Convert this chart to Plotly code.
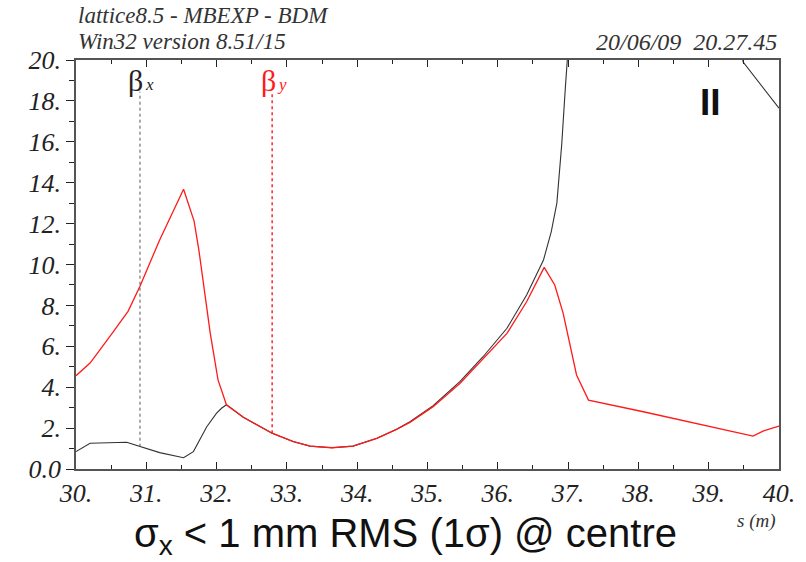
import plotly.graph_objects as go

# Optics functions along the line, s in metres
s_bx = [30.0, 30.2, 30.72, 30.91, 31.19, 31.53, 31.67, 31.86, 32.0, 32.07, 32.14,
        32.38, 32.79, 33.09, 33.33, 33.64, 33.94, 34.28, 34.56, 34.75, 35.08, 35.46,
        35.79, 36.13, 36.41, 36.65, 36.68, 36.76, 36.84, 36.91, 36.96, 37.0, 37.05,
        39.35, 39.49, 40.0]
beta_x = [0.85, 1.26, 1.31, 1.09, 0.80, 0.55, 0.85, 2.07, 2.73, 2.97, 3.14,
          2.53, 1.75, 1.34, 1.12, 1.04, 1.12, 1.50, 1.94, 2.31, 3.10, 4.27,
          5.49, 6.88, 8.51, 10.22, 10.6, 11.6, 13.0, 15.9, 18.6, 20.5, 23.0,
          23.0, 19.9, 17.64]

s_by = [30.0, 30.2, 30.48, 30.74, 30.91, 31.19, 31.53, 31.68, 31.75, 31.91, 32.02,
        32.14, 32.38, 32.79, 33.09, 33.33, 33.64, 33.94, 34.28, 34.56, 34.75, 35.08,
        35.46, 35.79, 36.13, 36.41, 36.66, 36.81, 36.93, 37.12, 37.29, 38.07, 38.83,
        39.63, 39.78, 40.0]
beta_y = [4.56, 5.18, 6.47, 7.71, 8.94, 11.2, 13.68, 12.12, 10.65, 6.63, 4.36,
          3.14, 2.53, 1.75, 1.34, 1.12, 1.04, 1.12, 1.50, 1.94, 2.28, 3.05,
          4.18, 5.40, 6.63, 8.18, 9.86, 9.0, 7.61, 4.60, 3.37, 2.80, 2.23,
          1.61, 1.86, 2.10]

# Marker positions for the two beta labels
mark_s = [30.91, 32.79]
mark_lo = [1.09, 1.75]
mark_hi = 18.45

x_ticks = [30, 31, 32, 33, 34, 35, 36, 37, 38, 39, 40]
x_text = ["30.", "31.", "32.", "33.", "34.", "35.", "36.", "37.", "38.", "39.", "40."]
y_ticks = [0, 2, 4, 6, 8, 10, 12, 14, 16, 18, 20]
y_text = ["0.0", "2.", "4.", "6.", "8.", "10.", "12.", "14.", "16.", "18.", "20."]

BLACK = "#333333"
RED = "#ff1a1a"
SERIF = "Liberation Serif"

fig = go.Figure()
fig.add_trace(go.Scatter(x=s_bx, y=beta_x, mode="lines",
                         line=dict(color=BLACK, width=1.1), showlegend=False))
fig.add_trace(go.Scatter(x=s_by, y=beta_y, mode="lines",
                         line=dict(color=RED, width=1.3), showlegend=False))
fig.add_trace(go.Scatter(x=[mark_s[0], mark_s[0]], y=[mark_lo[0], mark_hi], mode="lines",
                         line=dict(color="#555", width=1, dash="dot"), showlegend=False))
fig.add_trace(go.Scatter(x=[mark_s[1], mark_s[1]], y=[mark_lo[1], mark_hi], mode="lines",
                         line=dict(color=RED, width=1.4, dash="dot"), showlegend=False))

fig.update_layout(
    width=806, height=562,
    margin=dict(l=76, r=27, t=60, b=93),
    paper_bgcolor="white", plot_bgcolor="white",
    showlegend=False,
    xaxis=dict(
        range=[30, 40], tickvals=x_ticks, ticktext=x_text,
        ticks="inside", ticklen=7, tickwidth=1.2, tickcolor="#222",
        minor=dict(dtick=0.5, ticks="inside", ticklen=4, tickcolor="#222"),
        showline=True, linecolor="#555", linewidth=1.5, mirror="ticks",
        showgrid=False, zeroline=False,
        tickfont=dict(family=SERIF, size=26, color="#222", style="italic"),
    ),
    yaxis=dict(
        range=[0, 20], tickvals=y_ticks, ticktext=y_text,
        ticks="outside", ticklen=8, tickwidth=1.2, tickcolor="#222",
        minor=dict(dtick=1, ticks="outside", ticklen=5, tickcolor="#222"),
        showline=True, linecolor="#555", linewidth=1.5, mirror=True,
        showgrid=False, zeroline=False,
        tickfont=dict(family=SERIF, size=26, color="#222", style="italic"),
    ),
)

def top_note(text, x, y, xanchor, size=23):
    fig.add_annotation(text=text, xref="paper", yref="paper", x=x, y=y,
                       xanchor=xanchor, yanchor="middle", showarrow=False,
                       font=dict(family=SERIF, size=size, color="#333", style="italic"))

top_note("lattice8.5 - MBEXP - BDM", 0.0, 1.1088, "left")
top_note("Win32 version 8.51/15", 0.0, 1.0452, "left")
top_note("20/06/09&nbsp;&nbsp;20.27.45", 1.0, 1.0452, "right", 24)

# Beta labels above the markers
def beta_label(s_b, s_sub, sub, color):
    fig.add_annotation(text="β", x=s_b, y=19.02, xref="x", yref="y",
                       xanchor="center", yanchor="middle", showarrow=False,
                       font=dict(family=SERIF, size=30, color=color))
    fig.add_annotation(text=sub, x=s_sub, y=18.8, xref="x", yref="y",
                       xanchor="center", yanchor="middle", showarrow=False,
                       font=dict(family=SERIF, size=17, color=color, style="italic"))

beta_label(30.84, 31.05, "x", "#222")
beta_label(32.74, 32.93, "y", RED)

# Plane marker
fig.add_annotation(text="<b>II</b>", x=0.903, y=0.895, xref="paper", yref="paper",
                   xanchor="center", yanchor="middle", showarrow=False,
                   font=dict(family="Liberation Sans", size=37, color="#111"))

# Axis name and caption
fig.add_annotation(text="s (m)", x=0.998, y=-0.127, xref="paper", yref="paper",
                   xanchor="right", yanchor="middle", showarrow=False,
                   font=dict(family=SERIF, size=19, color="#333", style="italic"))
fig.add_annotation(text="σ<sub>x</sub> &lt; 1 mm RMS (1σ) @ centre", x=0.468, y=-0.165,
                   xref="paper", yref="paper", xanchor="center", yanchor="middle",
                   showarrow=False,
                   font=dict(family="Liberation Sans", size=40, color="#111"))

fig.write_html("out.html")
